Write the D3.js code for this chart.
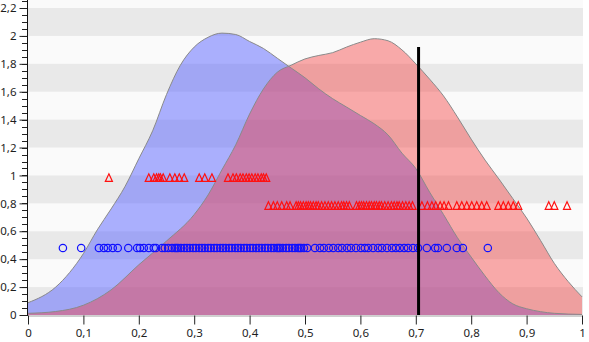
<!DOCTYPE html>
<html>
<head>
<meta charset="utf-8">
<script src="https://cdn.jsdelivr.net/npm/d3@7"></script>
<style>
  html, body { margin: 0; padding: 0; background: #ffffff; }
  svg { display: block; }
  text { font-family: "Noto Sans", "DejaVu Sans", sans-serif; font-size: 11.5px; fill: #1e1e1e; }
</style>
</head>
<body>
<svg id="chart" width="589" height="342"></svg>
<script>
// Density curve of group A (blue) sampled along x
const densityAX = [0, 0.05, 0.1, 0.125, 0.15, 0.175, 0.2, 0.225, 0.25, 0.275, 0.3, 0.325, 0.35, 0.375, 0.4, 0.425, 0.45, 0.475, 0.5, 0.525, 0.55, 0.575, 0.6, 0.625, 0.65, 0.675, 0.7, 0.725, 0.75, 0.775, 0.8, 0.825, 0.85, 0.875, 0.9, 0.925, 0.95, 1.0];
const densityAY = [0.088, 0.20, 0.44, 0.61, 0.76, 0.92, 1.12, 1.32, 1.58, 1.79, 1.92, 1.99, 2.02, 2.01, 1.96, 1.91, 1.84, 1.77, 1.70, 1.62, 1.55, 1.49, 1.43, 1.37, 1.29, 1.16, 1.05, 0.88, 0.72, 0.555, 0.415, 0.28, 0.16, 0.08, 0.045, 0.024, 0.012, 0.004];

// Density curve of group B (red) sampled along x
const densityBX = [0, 0.05, 0.1, 0.15, 0.2, 0.25, 0.3, 0.325, 0.35, 0.375, 0.4, 0.425, 0.45, 0.475, 0.5, 0.525, 0.55, 0.575, 0.6, 0.625, 0.65, 0.675, 0.7, 0.725, 0.75, 0.775, 0.8, 0.825, 0.85, 0.875, 0.9, 0.925, 0.95, 0.975, 1.0];
const densityBY = [0.012, 0.025, 0.07, 0.18, 0.36, 0.53, 0.72, 0.86, 1.04, 1.22, 1.44, 1.62, 1.74, 1.79, 1.835, 1.86, 1.88, 1.92, 1.955, 1.98, 1.965, 1.90, 1.80, 1.69, 1.57, 1.42, 1.26, 1.11, 0.975, 0.835, 0.695, 0.535, 0.37, 0.24, 0.13];

// Observations of group A (circles)
const pointsA = [0.063, 0.096, 0.128, 0.137, 0.144, 0.153, 0.162, 0.181, 0.197, 0.202, 0.209, 0.218, 0.227, 0.231, 0.242, 0.247, 0.253, 0.260, 0.265, 0.268, 0.271, 0.276, 0.282, 0.287, 0.292, 0.298, 0.303, 0.309, 0.314, 0.319, 0.325, 0.330, 0.336, 0.341, 0.347, 0.352, 0.357, 0.363, 0.368, 0.374, 0.379, 0.384, 0.390, 0.395, 0.401, 0.406, 0.412, 0.417, 0.422, 0.428, 0.433, 0.439, 0.444, 0.449, 0.452, 0.455, 0.460, 0.466, 0.471, 0.477, 0.482, 0.487, 0.490, 0.493, 0.498, 0.504, 0.518, 0.527, 0.534, 0.543, 0.551, 0.560, 0.567, 0.576, 0.583, 0.592, 0.601, 0.608, 0.614, 0.623, 0.632, 0.639, 0.648, 0.657, 0.664, 0.671, 0.679, 0.686, 0.695, 0.704, 0.720, 0.735, 0.740, 0.756, 0.774, 0.785, 0.830];
const levelA = 0.48;

// Observations of group B, first subset (triangles, upper row)
const pointsB1 = [0.146, 0.218, 0.227, 0.232, 0.236, 0.239, 0.244, 0.256, 0.265, 0.273, 0.282, 0.309, 0.319, 0.332, 0.361, 0.370, 0.376, 0.383, 0.388, 0.394, 0.399, 0.404, 0.410, 0.415, 0.421, 0.425, 0.430];
const levelB1 = 0.98;

// Observations of group B, second subset (triangles, lower row)
const pointsB2 = [0.434, 0.443, 0.450, 0.458, 0.467, 0.473, 0.484, 0.488, 0.492, 0.497, 0.502, 0.506, 0.510, 0.515, 0.520, 0.524, 0.530, 0.536, 0.542, 0.548, 0.554, 0.560, 0.566, 0.570, 0.575, 0.580, 0.593, 0.598, 0.602, 0.606, 0.611, 0.616, 0.620, 0.625, 0.629, 0.634, 0.638, 0.644, 0.650, 0.656, 0.661, 0.666, 0.670, 0.676, 0.682, 0.688, 0.694, 0.711, 0.721, 0.729, 0.736, 0.744, 0.751, 0.759, 0.774, 0.783, 0.792, 0.801, 0.810, 0.819, 0.828, 0.849, 0.858, 0.867, 0.876, 0.885, 0.940, 0.950, 0.973];
const levelB2 = 0.78;

// Threshold marker
const thresholdX = 0.705;
const thresholdTop = 1.92;

// Axis ticks
const xTicks = [0, 0.1, 0.2, 0.3, 0.4, 0.5, 0.6, 0.7, 0.8, 0.9, 1];
const yTicks = [0, 0.2, 0.4, 0.6, 0.8, 1, 1.2, 1.4, 1.6, 1.8, 2, 2.2];
const yMinorStep = 0.05;

const svg = d3.select("#chart");
const W = 589, H = 342;

const x = d3.scaleLinear().domain([0, 1]).range([28, 582]);
const y = d3.scaleLinear().domain([0, 2.2]).range([315, 8]);
const yTopValue = y.invert(0);

const fmt = d3.formatLocale({ decimal: ",", thousands: ".", grouping: [3], currency: ["", ""] }).format(".1~f");

// Plot background with alternating bands
const plot = svg.append("g");
plot.append("rect")
  .attr("x", x(0)).attr("y", 0)
  .attr("width", x(1) - x(0) + 1).attr("height", y(0))
  .attr("fill", "#fafafa");
const bands = d3.range(0, yTicks.length - 1, 2).map(i => [yTicks[i], yTicks[i + 1]]);
plot.selectAll("rect.band").data(bands).join("rect")
  .attr("class", "band")
  .attr("x", x(0)).attr("width", x(1) - x(0) + 1)
  .attr("y", d => y(d[1])).attr("height", d => y(d[0]) - y(d[1]))
  .attr("fill", "#e9e9e9");

// Density areas
const area = d3.area().x(d => x(d[0])).y0(y(0)).y1(d => y(d[1])).curve(d3.curveMonotoneX);
const line = d3.line().x(d => x(d[0])).y(d => y(d[1])).curve(d3.curveMonotoneX);

const dataA = densityAX.map((v, i) => [v, densityAY[i]]);
const dataB = densityBX.map((v, i) => [v, densityBY[i]]);

plot.append("path").datum(dataA).attr("d", area)
  .attr("fill", "rgb(90,100,255)").attr("fill-opacity", 0.5);
plot.append("path").datum(dataB).attr("d", area)
  .attr("fill", "rgb(246,58,58)").attr("fill-opacity", 0.42);
plot.append("path").datum(dataA).attr("d", line)
  .attr("fill", "none").attr("stroke", "#8a8a8a").attr("stroke-width", 1);
plot.append("path").datum(dataB).attr("d", line)
  .attr("fill", "none").attr("stroke", "#8a8a8a").attr("stroke-width", 1);

// Observation markers
const tri = {
  draw(ctx, size) {
    const s = Math.sqrt(size);
    ctx.moveTo(0, -0.62 * s);
    ctx.lineTo(0.5 * s, 0.45 * s);
    ctx.lineTo(-0.5 * s, 0.45 * s);
    ctx.closePath();
  }
};
const triPath = d3.symbol(tri, 50)();

plot.selectAll("circle.a").data(pointsA).join("circle")
  .attr("class", "a")
  .attr("cx", d => x(d)).attr("cy", y(levelA)).attr("r", 3.7)
  .attr("fill", "none").attr("stroke", "#1010ff").attr("stroke-width", 1.2);

plot.selectAll("path.b1").data(pointsB1).join("path")
  .attr("class", "b1")
  .attr("transform", d => `translate(${x(d)},${y(levelB1)})`)
  .attr("d", triPath)
  .attr("fill", "none").attr("stroke", "#ff1010").attr("stroke-width", 1.2);

plot.selectAll("path.b2").data(pointsB2).join("path")
  .attr("class", "b2")
  .attr("transform", d => `translate(${x(d)},${y(levelB2)})`)
  .attr("d", triPath)
  .attr("fill", "none").attr("stroke", "#ff1010").attr("stroke-width", 1.2);

// Threshold line
plot.append("line")
  .attr("x1", x(thresholdX)).attr("x2", x(thresholdX))
  .attr("y1", y(thresholdTop)).attr("y2", y(0))
  .attr("stroke", "#000").attr("stroke-width", 3);

// X axis
const xAxis = d3.axisBottom(x).tickValues(xTicks).tickFormat(fmt).tickSize(9).tickSizeOuter(0).tickPadding(4);
const gx = svg.append("g").attr("transform", `translate(0,${y(0) + 0.5})`).call(xAxis);
gx.select(".domain").attr("stroke", "#a0a0a0");
gx.selectAll(".tick line").attr("stroke", "#222");
gx.selectAll(".tick text").style("font-size", "11.5px").attr("fill", "#1e1e1e");

// Y axis: minor ticks, then major ticks with labels
const yMinor = d3.range(0, 2.2 + 1e-9, yMinorStep).concat([2.25]);
svg.append("g").selectAll("line").data(yMinor).join("line")
  .attr("x1", 22).attr("x2", 27.5)
  .attr("y1", d => Math.round(y(d)) + 0.5).attr("y2", d => Math.round(y(d)) + 0.5)
  .attr("stroke", "#222");
const yAxis = d3.axisLeft(y).tickValues(yTicks).tickFormat(fmt).tickSize(8).tickSizeOuter(0).tickPadding(3);
const gy = svg.append("g").attr("transform", "translate(27.5,0)").call(yAxis);
gy.select(".domain").remove();
gy.selectAll(".tick line").attr("stroke", "#222");
gy.selectAll(".tick text").style("font-size", "11.5px").attr("fill", "#1e1e1e");
svg.append("line").attr("x1", 27.5).attr("x2", 27.5).attr("y1", 0).attr("y2", y(0) + 1)
  .attr("stroke", "#111");
</script>
</body>
</html>
